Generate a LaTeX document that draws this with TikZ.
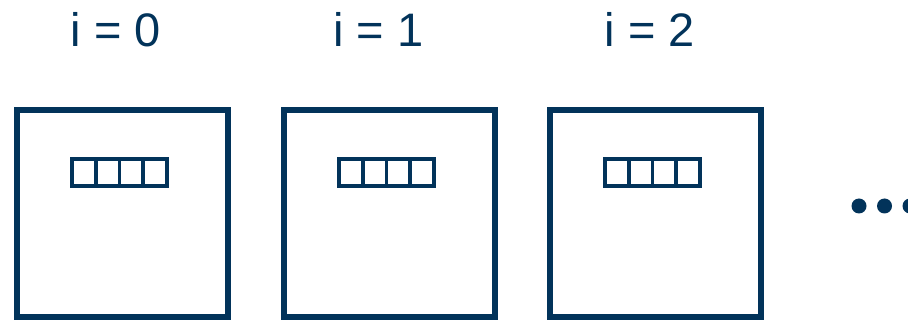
\documentclass[tikz,border=0pt]{standalone}
\usepackage{fontspec}
\setmainfont{Liberation Sans}
\usetikzlibrary{calc}
\definecolor{navy}{HTML}{02335A}
\tikzset{
  blockbox/.style={draw=navy, line width=6pt, minimum width=211pt, minimum height=207pt, inner sep=0pt},
  cellbox/.style={draw=navy, line width=3.6pt, minimum width=23.75pt, minimum height=27.5pt, inner sep=0pt},
  lbl/.style={text=navy, font=\fontsize{47}{50}\selectfont, anchor=base, inner sep=0pt},
  dotnode/.style={circle, fill=navy, minimum size=15pt, inner sep=0pt}
}
\begin{document}
\begin{tikzpicture}[x=1pt, y=-1pt]
        \useasboundingbox (0,0) rectangle (908,320);
        \clip (0,0) rectangle (908,320);

        % Blocchi con il loro indice
        \foreach \i/\x/\t in {0/122/116, 1/389/378.5, 2/655/650} {
            \node[blockbox] (b\i) at (\x,213.5) {};
            \node[lbl] (t\i) at (\t,47) {i = \i};
            % Vettore di quattro celle
            \foreach \k in {0,...,3} {
                \node[cellbox] (c\i\k) at ($(b\i.north)+({-2.5+(\k-1.5)*23.75},65.5)$) {};
            }
        }

        % Puntini di continuazione
        \foreach \k/\x in {0/859, 1/884.5, 2/910} {
            \node[dotnode] (d\k) at (\x,206) {};
        }
    \end{tikzpicture}
\end{document}
